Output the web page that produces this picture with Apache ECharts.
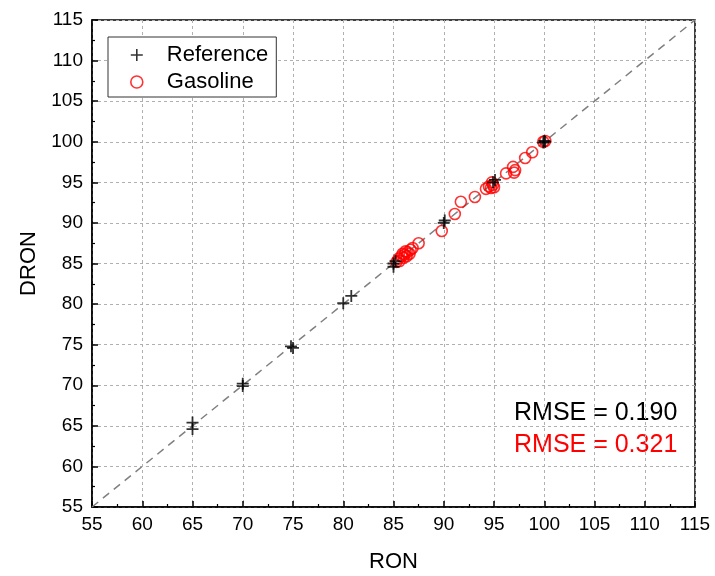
<!DOCTYPE html>
<html>
<head>
<meta charset="utf-8">
<script src="https://cdn.jsdelivr.net/npm/echarts@6/dist/echarts.min.js"></script>
<style>html,body{margin:0;padding:0;background:#fff;}#c{width:715px;height:576px;}</style>
</head>
<body>
<div id="c"></div>
<script>
// Data
const referencePts = [[65,65.4],[65,64.6],[70,70.2],[70,69.9],[74.8,74.8],[75,74.6],[80,80.1],[80.8,81.0],[85,84.6],[85,85.0],[85.2,85.3],[90,90.0],[90.1,90.3],[94.9,95.0],[95.1,95.3],[99.9,99.9],[100,100.1],[100.1,100]];
const gasolinePts = [[85.3,85.2],[85.5,85.6],[85.6,85.3],[85.8,85.9],[86.0,85.7],[86.1,86.1],[86.3,85.9],[86.4,86.4],[86.6,86.2],[86.7,86.7],[86.9,86.9],[86.2,86.5],[85.9,86.2],[87.5,87.5],[89.8,89.0],[91.1,91.1],[91.7,92.6],[93.1,93.2],[94.2,94.2],[94.5,94.5],[94.7,94.3],[94.9,94.7],[94.8,95.0],[95.0,94.4],[96.2,96.1],[96.9,96.9],[97.1,96.5],[97.0,96.2],[98.1,98.0],[98.8,98.7],[99.9,100.0],[100.1,100.1]];
const diagonal = [[55,55],[115,115]];
const axisMin = 55, axisMax = 115, axisStep = 5;
const seriesNames = ['Reference','Gasoline'];
const rmseTexts = ['RMSE = 0.190','RMSE = 0.321'];

const FONT = 'Liberation Sans, Arial, sans-serif';
const plus = 'path://M0,6 L12,6 M6,0 L6,12';
const axisCommon = {
  min: axisMin, max: axisMax, interval: axisStep,
  axisLine: {show: true, onZero: false, lineStyle: {color: '#000', width: 1.5}},
  axisTick: {show: true, inside: true, length: 6, lineStyle: {color: '#000', width: 1.5}},
  minorTick: {show: true, splitNumber: 2, length: 3, lineStyle: {color: '#000', width: 1.2}},
  splitLine: {show: true, lineStyle: {color: '#b0b0b0', type: [3, 3], width: 1}},
  axisLabel: {color: '#000', fontSize: 19, fontFamily: FONT},
  nameTextStyle: {color: '#000', fontSize: 22, fontFamily: FONT}
};
const chart = echarts.init(document.getElementById('c'));
chart.setOption({
  animation: false,
  backgroundColor: '#fff',
  grid: {left: 92, right: 20, top: 20, bottom: 69, outerBoundsMode: 'none', containLabel: false,
    show: true, borderColor: '#000', borderWidth: 1.5, backgroundColor: 'transparent'},
  xAxis: Object.assign({}, axisCommon, {type: 'value', name: 'RON', nameLocation: 'middle', nameGap: 44,
    axisLabel: Object.assign({}, axisCommon.axisLabel, {margin: 8})}),
  yAxis: Object.assign({}, axisCommon, {type: 'value', name: 'DRON', nameLocation: 'middle', nameGap: 50,
    axisLabel: Object.assign({}, axisCommon.axisLabel, {margin: 9})}),
  legend: {
    left: 108, top: 37, orient: 'vertical', padding: [7, 8, 4, 22], itemGap: 5,
    itemWidth: 50, itemHeight: 12,
    borderColor: '#333', borderWidth: 1, backgroundColor: '#fff',
    textStyle: {color: '#000', fontSize: 22, fontFamily: FONT},
    data: [
      {name: seriesNames[0], icon: plus, itemStyle: {color: 'transparent', borderColor: '#000', borderWidth: 1.6}},
      {name: seriesNames[1], icon: 'circle', itemStyle: {color: 'transparent', borderColor: '#ff0000', borderWidth: 1.6}}
    ]
  },
  series: [
    {type: 'line', data: diagonal, symbol: 'none', silent: true, z: 1,
      lineStyle: {color: '#808080', width: 1.5, type: [8, 6]}},
    {name: seriesNames[0], type: 'scatter', data: referencePts, symbol: plus, symbolSize: 12, z: 3,
      itemStyle: {color: 'transparent', borderColor: '#000', borderWidth: 1.8}},
    {name: seriesNames[1], type: 'scatter', data: gasolinePts, symbol: 'circle', symbolSize: 11, z: 2,
      itemStyle: {color: 'transparent', borderColor: '#ff0000', borderWidth: 1.6}}
  ],
  graphic: [
    {type: 'text', left: 514, top: 401, style: {text: rmseTexts[0], fill: '#000', font: '25px ' + FONT}},
    {type: 'text', left: 514, top: 433, style: {text: rmseTexts[1], fill: '#ff0000', font: '25px ' + FONT}}
  ]
});
</script>
</body>
</html>
